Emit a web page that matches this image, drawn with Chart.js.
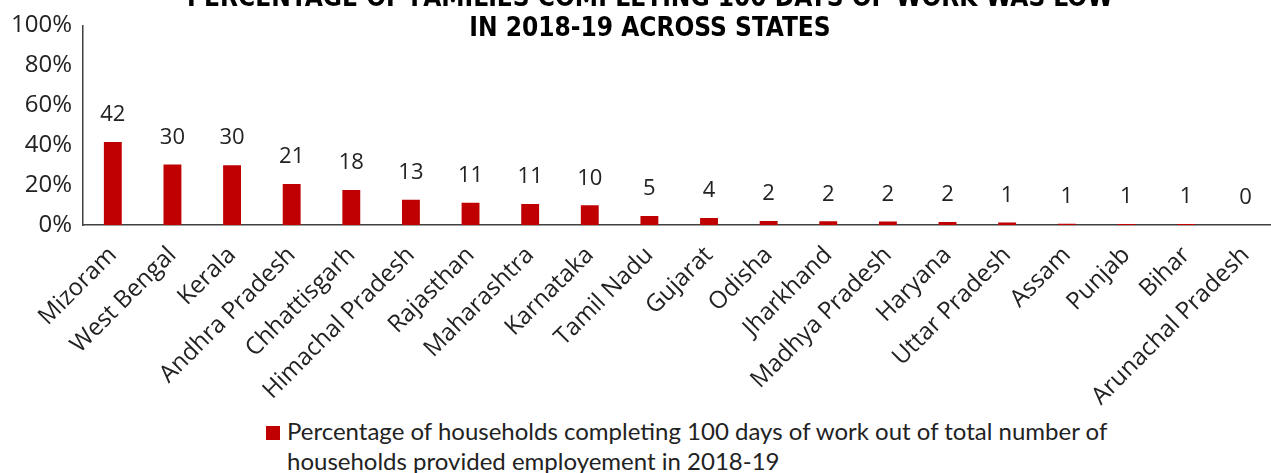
<!DOCTYPE html>
<html>
<head>
<meta charset="utf-8">
<script src="https://cdn.jsdelivr.net/npm/chart.js@4.4.1/dist/chart.umd.min.js"></script>
<style>
  html, body { margin: 0; padding: 0; background: #fff; overflow: hidden; }
  body { width: 1271px; height: 473px; position: relative; font-family: Lato, sans-serif; }
  #wrap { position: absolute; left: 0; top: 0; width: 1282px; height: 427px; }
  #title {
    position: absolute; left: 0; width: 1300px; top: -18px; text-align: center;
    font-family: "DejaVu Sans Condensed", sans-serif;
    font-weight: bold; font-size: 26px; line-height: 30px; color: #000; z-index: 2;
  }
  #legend {
    position: absolute; left: 266px; top: 416px; width: 900px;
    font-size: 24px; line-height: 30px; color: #222; z-index: 2; background: #fff;
  }
  #legend .box { display: inline-block; width: 14px; height: 14px; background: #c00000; margin-right: 7px; vertical-align: 0px; }
  #legend .line2 { padding-left: 21px; }
</style>
</head>
<body>
<div id="title">PERCENTAGE OF FAMILIES COMPLETING 100 DAYS OF WORK WAS LOW<br>IN 2018-19 ACROSS STATES</div>
<div id="wrap"><canvas id="barChart"></canvas></div>
<div id="legend"><span class="box"></span>Percentage of households completing 100 days of work out of total number of<br><span class="line2">households provided employement in 2018-19</span></div>
<script>
const states = ['Mizoram', 'West Bengal', 'Kerala', 'Andhra Pradesh', 'Chhattisgarh', 'Himachal Pradesh',
    'Rajasthan', 'Maharashtra', 'Karnataka', 'Tamil Nadu', 'Gujarat', 'Odisha', 'Jharkhand',
    'Madhya Pradesh', 'Haryana', 'Uttar Pradesh', 'Assam', 'Punjab', 'Bihar', 'Arunachal Pradesh'];
const pctCompleted = [41.6, 30.4, 30.0, 20.6, 17.6, 12.7, 11.2, 10.6, 9.9, 4.6, 3.6, 2.1, 1.9, 1.8, 1.6, 1.3, 0.7, 0.6, 0.6, 0.1];
const yTicks = [0, 20, 40, 60, 80, 100];

const barRed = '#c00000';
const axisColor = '#404040';
const labelFont = '"Open Sans", sans-serif';

// value labels above each bar
const valueLabels = {
    id: 'valueLabels',
    afterDatasetsDraw(chart) {
        const ctx = chart.ctx;
        const meta = chart.getDatasetMeta(0);
        ctx.save();
        ctx.font = '22px ' + labelFont;
        ctx.fillStyle = '#222';
        ctx.textAlign = 'center';
        ctx.textBaseline = 'middle';
        meta.data.forEach((bar, i) => {
            ctx.fillText(Math.round(pctCompleted[i]), bar.x, bar.y - 27);
        });
        ctx.restore();
    }
};

const ctx = document.getElementById('barChart').getContext('2d');
new Chart(ctx, {
    type: 'bar',
    data: {
        labels: states,
        datasets: [{
            label: 'Percentage of households completing 100 days of work',
            data: pctCompleted,
            backgroundColor: barRed,
            barPercentage: 0.30,
            categoryPercentage: 1.0,
        }],
    },
    options: {
        responsive: true,
        maintainAspectRatio: false,
        animation: false,
        layout: { padding: { top: 10, left: 0, right: 1, bottom: 0 } },
        plugins: {
            legend: { display: false },
            tooltip: { enabled: false },
        },
        scales: {
            x: {
                grid: { display: false, drawTicks: false },
                border: { color: axisColor, width: 1.5 },
                ticks: {
                    color: '#222',
                    font: { family: 'Open Sans', size: 24 },
                    maxRotation: 45,
                    minRotation: 45,
                    padding: 16,
                },
            },
            y: {
                min: 0,
                max: 100,
                afterBuildTicks: (axis) => { axis.ticks = yTicks.map(v => ({ value: v })); },
                grid: { display: false, drawTicks: false },
                border: { color: axisColor, width: 1.5 },
                ticks: {
                    color: '#222',
                    font: { family: 'Open Sans', size: 24 },
                    padding: 11,
                    callback: (v) => v + '%',
                },
            },
        },
    },
    plugins: [valueLabels],
});
</script>
</body>
</html>
